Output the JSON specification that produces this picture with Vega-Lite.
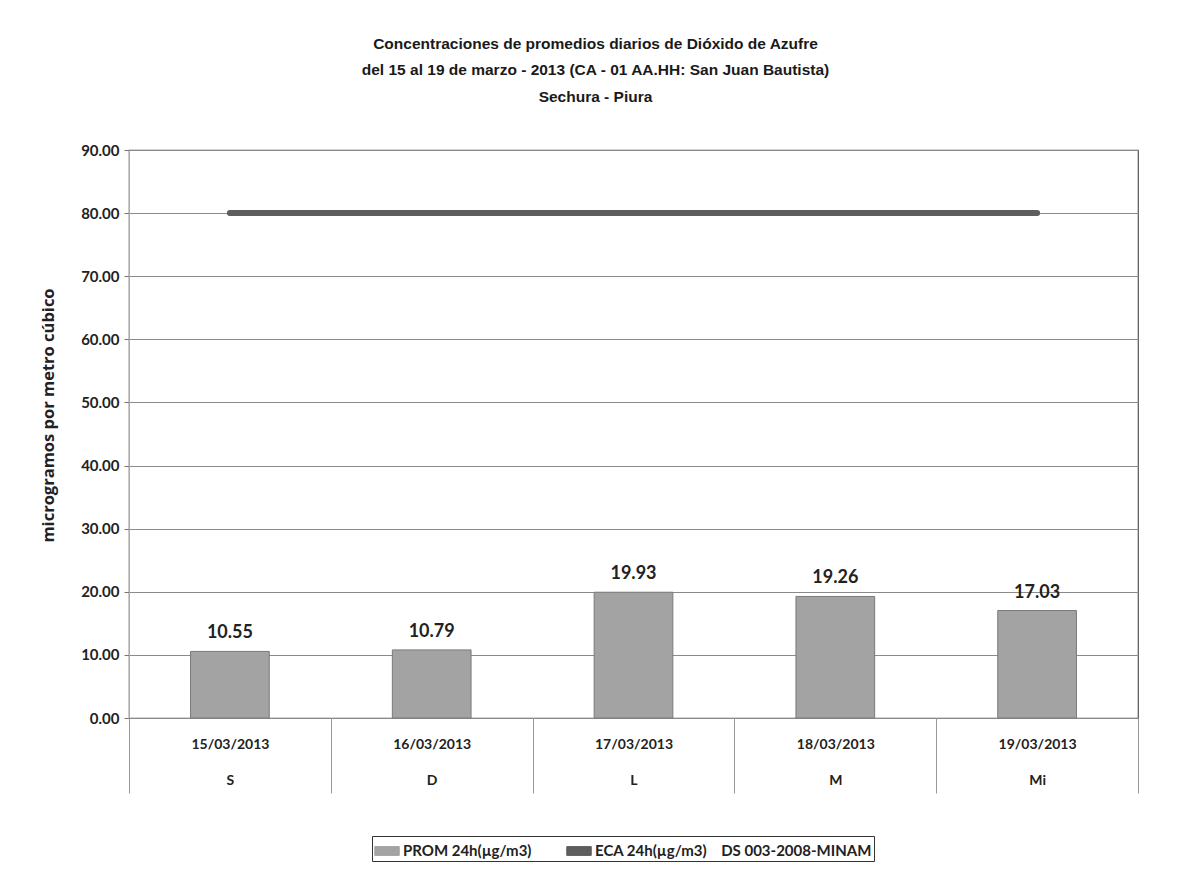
{
  "$schema": "https://vega.github.io/schema/vega-lite/v6.json",
  "autosize": {"type": "none"},
  "width": 1009,
  "height": 568,
  "padding": {"left": 129, "top": 150, "right": 46, "bottom": 159},
  "background": "white",
  "config": {
    "font": "Lato",
    "view": {"stroke": "#555", "strokeWidth": 1.2},
    "legend": {
      "orient": "none",
      "legendX": 243,
      "legendY": 686,
      "direction": "horizontal",
      "strokeColor": "#333",
      "padding": 2,
      "labelFont": "Lato",
      "labelFontSize": 15,
      "labelFontWeight": "bold",
      "labelColor": "#222",
      "labelLimit": 500,
      "columnPadding": 32,
      "symbolType": "M-1,-0.36H1V0.36H-1Z",
      "symbolSize": 600,
      "symbolStrokeColor": "#555",
      "symbolStrokeWidth": 1,
      "labelOffset": 3
    }
  },
  "title": {
    "text": ["Concentraciones de promedios diarios de Dióxido de Azufre", "del 15 al 19 de marzo - 2013 (CA - 01 AA.HH: San Juan Bautista)", "Sechura - Piura"],
    "font": "Liberation Sans Narrow, Liberation Sans",
    "fontSize": 15.5,
    "fontWeight": "bold",
    "color": "#1a1a1a",
    "lineHeight": 26.5,
    "anchor": "middle",
    "dx": -38,
    "offset": 38
  },
  "data": {
    "values": [
      {"fecha": "15/03/2013|S", "prom": 10.55, "eca": 80},
      {"fecha": "16/03/2013|D", "prom": 10.79, "eca": 80},
      {"fecha": "17/03/2013|L", "prom": 19.93, "eca": 80},
      {"fecha": "18/03/2013|M", "prom": 19.26, "eca": 80},
      {"fecha": "19/03/2013|Mi", "prom": 17.03, "eca": 80}
    ]
  },
  "encoding": {
    "x": {
      "field": "fecha",
      "type": "nominal",
      "sort": null,
      "scale": {"paddingInner": 0, "paddingOuter": 0},
      "axis": {
        "title": null,
        "labelAngle": 0,
        "labelExpr": "isValid(datum.value) ? split(datum.value, '|') : ''",
        "labelFont": "Lato",
        "labelFontSize": 14,
        "labelFontWeight": "bold",
        "labelColor": "#222",
        "labelLineHeight": 36,
        "labelPadding": -56,
        "tickBand": "extent",
        "tickSize": 75,
        "tickColor": "#999",
        "domain": false,
        "grid": false
      }
    }
  },
  "layer": [
    {
      "mark": {"type": "bar", "width": {"band": 0.39}, "stroke": "#7a7a7a", "strokeWidth": 1},
      "encoding": {
        "y": {
          "field": "prom",
          "type": "quantitative",
          "scale": {"domain": [0, 90], "nice": false},
          "axis": {
            "title": "microgramos por metro cúbico",
            "titleFont": "Open Sans",
            "titleFontSize": 16.5,
            "titleFontWeight": "bold",
            "titleColor": "#222",
            "titlePadding": 24,
            "titleY": 265,
            "values": [0, 10, 20, 30, 40, 50, 60, 70, 80, 90],
            "format": ".2f",
            "labelFont": "Lato",
            "labelFontSize": 15,
            "labelFontWeight": "bold",
            "labelColor": "#222",
            "labelPadding": 5,
            "tickSize": 5,
            "tickColor": "#777",
            "domainColor": "#aaa",
            "gridColor": "#8a8a8a",
            "gridWidth": 1
          }
        },
        "color": {
          "datum": "PROM 24h(µg/m3)",
          "type": "nominal",
          "scale": {"domain": ["PROM 24h(µg/m3)", "ECA 24h(µg/m3)\u00a0\u00a0\u00a0 DS 003-2008-MINAM"], "range": ["#a3a3a3", "#5e5e5e"]},
          "legend": {"title": null}
        }
      }
    },
    {
      "mark": {"type": "text", "baseline": "bottom", "dy": -9, "font": "Lato", "fontSize": 18, "fontWeight": "bold", "color": "#222"},
      "encoding": {
        "y": {"field": "prom", "type": "quantitative"},
        "text": {"field": "prom", "type": "quantitative", "format": ".2f"}
      }
    },
    {
      "mark": {"type": "line", "strokeWidth": 6, "strokeCap": "round"},
      "encoding": {
        "y": {"field": "eca", "type": "quantitative"},
        "color": {"datum": "ECA 24h(µg/m3)\u00a0\u00a0\u00a0 DS 003-2008-MINAM", "type": "nominal"}
      }
    }
  ]
}
